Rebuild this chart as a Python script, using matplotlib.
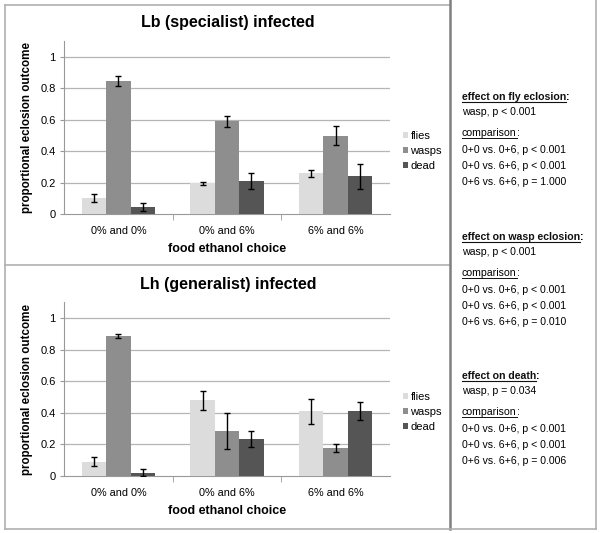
import matplotlib
matplotlib.use("Agg")
import matplotlib.pyplot as plt
import numpy as np

plt.rcParams['font.family'] = ['Liberation Sans', 'DejaVu Sans']

categories = ['0% and 0%', '0% and 6%', '6% and 6%']
series = ['flies', 'wasps', 'dead']
colors = ['#dcdcdc', '#8e8e8e', '#555555']

# Lb (specialist) infected
lb_mean = [[0.10, 0.195, 0.26],
           [0.85, 0.59, 0.50],
           [0.045, 0.21, 0.24]]
lb_err = [[0.025, 0.012, 0.022],
          [0.032, 0.035, 0.06],
          [0.025, 0.05, 0.08]]

# Lh (generalist) infected
lh_mean = [[0.09, 0.48, 0.41],
           [0.885, 0.285, 0.18],
           [0.02, 0.235, 0.41]]
lh_err = [[0.028, 0.06, 0.08],
          [0.014, 0.115, 0.025],
          [0.022, 0.052, 0.057]]

stats_text = [
    ('effect on fly eclosion', 'wasp, p < 0.001',
     ['0+0 vs. 0+6, p < 0.001', '0+0 vs. 6+6, p < 0.001', '0+6 vs. 6+6, p = 1.000']),
    ('effect on wasp eclosion', 'wasp, p < 0.001',
     ['0+0 vs. 0+6, p < 0.001', '0+0 vs. 6+6, p < 0.001', '0+6 vs. 6+6, p = 0.010']),
    ('effect on death', 'wasp, p = 0.034',
     ['0+0 vs. 0+6, p < 0.001', '0+0 vs. 6+6, p < 0.001', '0+6 vs. 6+6, p = 0.006']),
]

W, H = 600, 533
fig = plt.figure(figsize=(6, 5.33), dpi=100)


def fx(px):
    return px / W


def fy(py):
    return 1 - py / H


# frames
def line(x0, y0, x1, y1, c='#b0b0b0', lw=1.2):
    fig.add_artist(plt.Line2D([fx(x0), fx(x1)], [fy(y0), fy(y1)], color=c, lw=lw))


line(5, 5, 450, 5)
line(5, 5, 5, 529)
line(5, 529, 450, 529)
line(5, 265, 450, 265)
line(450, 0, 450, 529, c='#808080', lw=1.8)
line(596, 0, 596, 529)
line(450, 529, 596, 529)


def draw_panel(top_px, zero_px, one_px, title, mean, err, leg_y):
    unit = zero_px - one_px
    ytop = zero_px - 1.1 * unit
    ax = fig.add_axes([fx(64), fy(zero_px), fx(390) - fx(64), (zero_px - ytop) / H])
    x = np.arange(len(categories))
    bw = 0.225
    for i, s in enumerate(series):
        ax.bar(x + (i - 1) * bw, mean[i], bw, color=colors[i], label=s, zorder=3,
               yerr=err[i], error_kw=dict(ecolor='black', elinewidth=1, capsize=2, capthick=1))
    ax.set_xlim(-0.5, 2.5)
    ax.set_ylim(0, 1.1)
    ax.set_yticks([0, 0.2, 0.4, 0.6, 0.8, 1])
    ax.set_yticklabels(['0', '0.2', '0.4', '0.6', '0.8', '1'], fontsize=8)
    for v in [0.2, 0.4, 0.6, 0.8, 1.0]:
        ax.axhline(v, color='#b5b5b5', lw=0.9, zorder=1)
    ax.set_xticks(x)
    ax.set_xticklabels(categories, fontsize=7.8)
    ax.tick_params(axis='x', length=0, pad=9)
    ax.set_xticks([0.5, 1.5], minor=True)
    ax.tick_params(axis='x', which='minor', length=4, color='#999999')
    ax.tick_params(axis='y', length=3, color='#999999', pad=3)
    for sp in ['top', 'right']:
        ax.spines[sp].set_visible(False)
    ax.spines['left'].set_color('#999999')
    ax.spines['bottom'].set_color('#999999')
    ax.set_xlabel('food ethanol choice', fontsize=9, fontweight='bold', labelpad=5)
    ax.set_ylabel('proportional eclosion outcome', fontsize=8.4, fontweight='bold')
    ax.yaxis.set_label_coords(-0.095, 0.5)
    fig.text(fx(228), fy(top_px), title, fontsize=11.5, fontweight='bold', ha='center', va='center')
    ax.legend(loc='center left', bbox_to_anchor=(1.01, leg_y), frameon=False, fontsize=8,
              handlelength=0.45, handleheight=0.45, handletextpad=0.2, labelspacing=0.45)
    return ax


draw_panel(23, 214, 57, 'Lb (specialist) infected', lb_mean, lb_err, 0.364)
draw_panel(284, 476, 318, 'Lh (generalist) infected', lh_mean, lh_err, 0.37)

# statistics text
fs = 7.6
starts = [97, 237, 376]
for (head, wasp, comps), y0 in zip(stats_text, starts):
    t = fig.text(fx(462), fy(y0), head, fontsize=fs, fontweight='bold', va='center',
                 color='#111111')
    fig.canvas.draw()
    bb = t.get_window_extent()
    fig.text(bb.x1 / W, fy(y0), ':', fontsize=fs, fontweight='bold', va='center')
    fig.add_artist(plt.Line2D([bb.x0 / W, bb.x1 / W], [fy(y0 + 5), fy(y0 + 5)],
                              color='#111111', lw=0.8))
    fig.text(fx(462), fy(y0 + 15), wasp, fontsize=fs, va='center')
    c = fig.text(fx(462), fy(y0 + 36), 'comparison', fontsize=fs, va='center')
    fig.canvas.draw()
    bb = c.get_window_extent()
    fig.text(bb.x1 / W, fy(y0 + 36), ':', fontsize=fs, va='center')
    fig.add_artist(plt.Line2D([bb.x0 / W, bb.x1 / W], [fy(y0 + 41), fy(y0 + 41)],
                              color='#111111', lw=0.7))
    for k, s in enumerate(comps):
        fig.text(fx(462), fy(y0 + 53 + 16 * k), s, fontsize=fs, va='center')

fig.savefig('out.png', dpi=100)
